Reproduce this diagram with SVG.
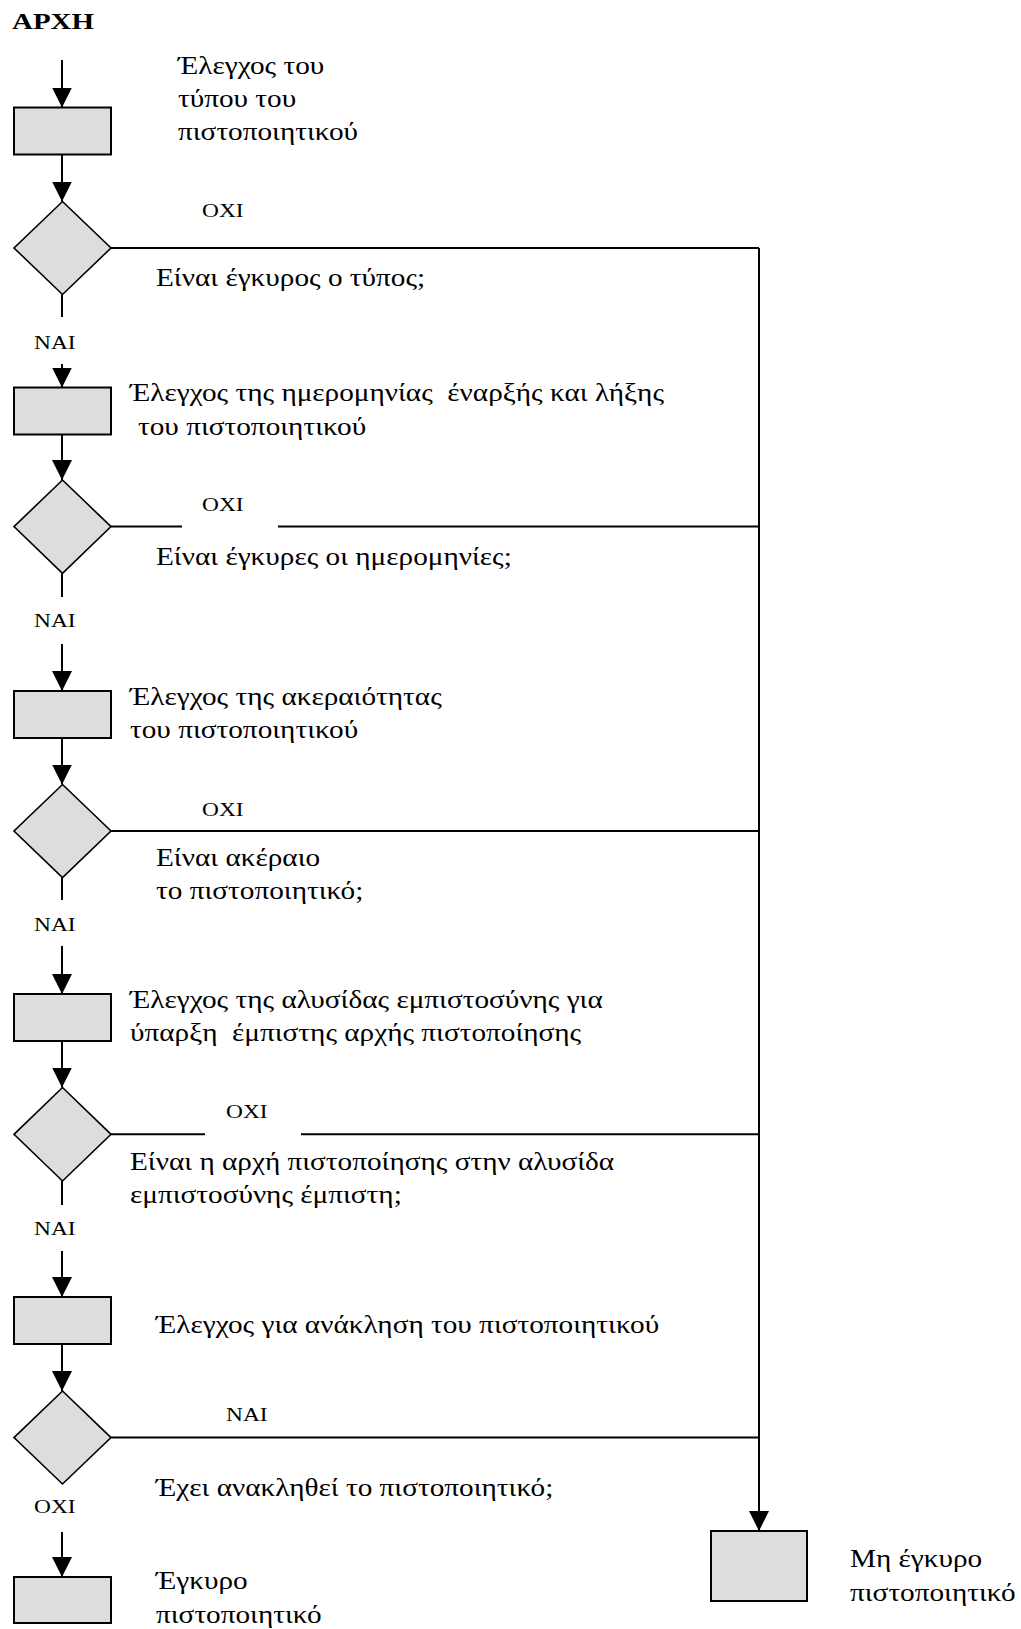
<svg xmlns="http://www.w3.org/2000/svg" width="1021" height="1629" viewBox="0 0 1021 1629">
  <style>
    .box { fill: #dddddd; stroke: #000; stroke-width: 2; }
    .dec { fill: #dddddd; stroke: #000; stroke-width: 1.6; }
    .ln { fill: none; stroke: #000; stroke-width: 2; }
    .arr { fill: none; stroke: #000; stroke-width: 2; marker-end: url(#head); }
    text { font-family: "Liberation Serif", "Times New Roman", serif; fill: #000; white-space: pre; }
    .t { font-size: 25px; }
    .lb { font-size: 18px; }
    .title { font-size: 23px; font-weight: bold; }
  </style>
  <defs>
    <marker id="head" viewBox="0 0 20 20" refX="20" refY="10" markerWidth="20" markerHeight="20" markerUnits="userSpaceOnUse" orient="auto">
      <path d="M0,0 L20,10 L0,20 Z" fill="#000"/>
    </marker>
  </defs>

  <text class="title" transform="translate(12 29) scale(1.26 1)">ΑΡΧΗ</text>

  <!-- connectors -->
  <g id="connectors">
    <path class="arr" d="M62,60 V107.5"/>
    <path class="arr" d="M62,154.5 V201.5"/>
    <path class="ln" d="M111,248 H759"/>
    <path class="arr" d="M759,248 V1531"/>
    <path class="ln" d="M62,294.5 V317"/>
    <path class="arr" d="M62,364 V387.5"/>
    <path class="arr" d="M62,434.5 V480"/>
    <path class="ln" d="M111,526.6 H182 M278,526.6 H759"/>
    <path class="ln" d="M62,573.4 V597"/>
    <path class="arr" d="M62,644 V691"/>
    <path class="arr" d="M62,738 V784.5"/>
    <path class="ln" d="M111,831 H759"/>
    <path class="ln" d="M62,877.7 V900"/>
    <path class="arr" d="M62,946 V994"/>
    <path class="arr" d="M62,1041 V1087.5"/>
    <path class="ln" d="M111,1134.3 H205 M301,1134.3 H759"/>
    <path class="ln" d="M62,1181 V1205"/>
    <path class="arr" d="M62,1251 V1297"/>
    <path class="arr" d="M62,1344 V1391"/>
    <path class="ln" d="M111,1437.6 H759"/>
    <path class="arr" d="M62,1532 V1577"/>
  </g>

  <!-- branch labels -->
  <g id="labels">
    <text class="lb" transform="translate(202 217) scale(1.3 1)">ΟΧΙ</text>
    <text class="lb" transform="translate(34 349) scale(1.3 1)">ΝΑΙ</text>
    <text class="lb" transform="translate(202 511) scale(1.3 1)">ΟΧΙ</text>
    <text class="lb" transform="translate(34 627) scale(1.3 1)">ΝΑΙ</text>
    <text class="lb" transform="translate(202 816) scale(1.3 1)">ΟΧΙ</text>
    <text class="lb" transform="translate(34 931) scale(1.3 1)">ΝΑΙ</text>
    <text class="lb" transform="translate(226 1118) scale(1.3 1)">ΟΧΙ</text>
    <text class="lb" transform="translate(34 1235) scale(1.3 1)">ΝΑΙ</text>
    <text class="lb" transform="translate(226 1421) scale(1.3 1)">ΝΑΙ</text>
    <text class="lb" transform="translate(34 1513) scale(1.3 1)">ΟΧΙ</text>
  </g>

  <g id="check-type">
    <rect class="box" x="14" y="107.5" width="97" height="47"/>
    <text class="t" transform="translate(178 74) scale(1.17 1)">Έλεγχος του</text>
    <text class="t" transform="translate(178 107) scale(1.17 1)">τύπου του</text>
    <text class="t" transform="translate(178 140) scale(1.17 1)">πιστοποιητικού</text>
  </g>
  <g id="type-valid">
    <polygon class="dec" points="62.5,201.5 111,248 62.5,294.5 14,248"/>
    <text class="t" transform="translate(156 286) scale(1.17 1)">Είναι έγκυρος ο τύπος;</text>
  </g>

  <g id="check-dates">
    <rect class="box" x="14" y="387.5" width="97" height="47"/>
    <text class="t" transform="translate(130 401) scale(1.17 1)" xml:space="preserve">Έλεγχος της ημερομηνίας  έναρξής και λήξης</text>
    <text class="t" transform="translate(138 435) scale(1.17 1)">του πιστοποιητικού</text>
  </g>
  <g id="dates-valid">
    <polygon class="dec" points="62.5,480 111,526.6 62.5,573.4 14,526.6"/>
    <text class="t" transform="translate(156 565) scale(1.17 1)">Είναι έγκυρες οι ημερομηνίες;</text>
  </g>

  <g id="check-integrity">
    <rect class="box" x="14" y="691" width="97" height="47"/>
    <text class="t" transform="translate(130 705) scale(1.17 1)">Έλεγχος της ακεραιότητας</text>
    <text class="t" transform="translate(130 738) scale(1.17 1)">του πιστοποιητικού</text>
  </g>
  <g id="integrity-ok">
    <polygon class="dec" points="62.5,784.5 111,831 62.5,877.7 14,831"/>
    <text class="t" transform="translate(156 866) scale(1.17 1)">Είναι ακέραιο</text>
    <text class="t" transform="translate(156 899) scale(1.17 1)">το πιστοποιητικό;</text>
  </g>

  <g id="check-chain">
    <rect class="box" x="14" y="994" width="97" height="47"/>
    <text class="t" transform="translate(130 1008) scale(1.17 1)">Έλεγχος της αλυσίδας εμπιστοσύνης για</text>
    <text class="t" transform="translate(130 1041) scale(1.17 1)" xml:space="preserve">ύπαρξη  έμπιστης αρχής πιστοποίησης</text>
  </g>
  <g id="ca-trusted">
    <polygon class="dec" points="62.5,1087.5 111,1134.3 62.5,1181 14,1134.3"/>
    <text class="t" transform="translate(130 1170) scale(1.17 1)">Είναι η αρχή πιστοποίησης στην αλυσίδα</text>
    <text class="t" transform="translate(130 1203) scale(1.17 1)">εμπιστοσύνης έμπιστη;</text>
  </g>

  <g id="check-revocation">
    <rect class="box" x="14" y="1297" width="97" height="47"/>
    <text class="t" transform="translate(156 1333) scale(1.17 1)">Έλεγχος για ανάκληση του πιστοποιητικού</text>
  </g>
  <g id="revoked">
    <polygon class="dec" points="62.5,1391 111,1437.6 62.5,1484 14,1437.6"/>
    <text class="t" transform="translate(156 1496) scale(1.17 1)">Έχει ανακληθεί το πιστοποιητικό;</text>
  </g>

  <g id="valid-cert">
    <rect class="box" x="14" y="1577" width="97" height="46"/>
    <text class="t" transform="translate(156 1589) scale(1.17 1)">Έγκυρο</text>
    <text class="t" transform="translate(156 1623) scale(1.17 1)">πιστοποιητικό</text>
  </g>

  <g id="invalid-cert">
    <rect class="box" x="711" y="1531" width="96" height="70"/>
    <text class="t" transform="translate(850 1567) scale(1.17 1)">Μη έγκυρο</text>
    <text class="t" transform="translate(850 1601) scale(1.17 1)">πιστοποιητικό</text>
  </g>
</svg>
